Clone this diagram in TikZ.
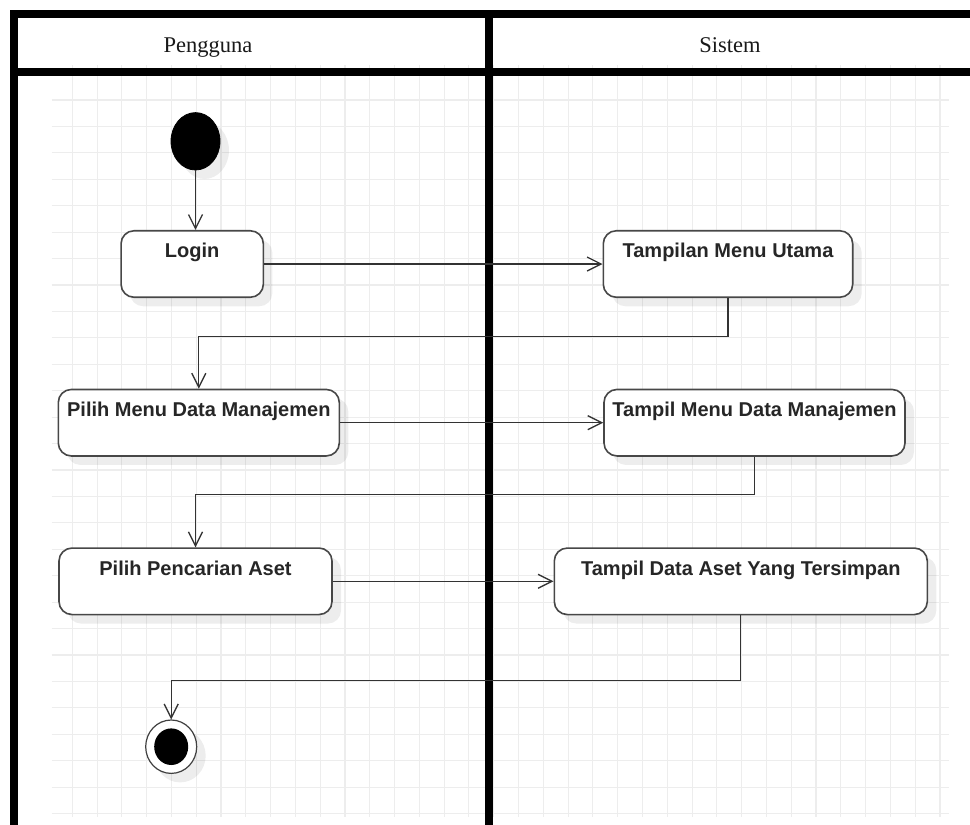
\documentclass[tikz,border=0pt]{standalone}
\usepackage{fontspec}
\setmainfont{Liberation Serif}
\setsansfont{Liberation Sans}
\usetikzlibrary{shapes.geometric,arrows.meta,shadows}

\tikzset{
  gridline/.style={draw=black!7, line width=1.1pt},
  laneline/.style={draw=black, line width=8pt, line join=miter},
  lanetitle/.style={font=\fontsize{22.5pt}{24pt}\selectfont, text=black!90, anchor=base, inner sep=0pt},
  softshadow/.style={drop shadow={shadow xshift=9pt, shadow yshift=-9pt, fill=black, opacity=0.07}},
  actbox/.style={draw=black!72, line width=1.6pt, fill=white, rounded corners=13pt,
    minimum height=66.5pt, inner sep=0pt, softshadow},
  acttext/.style={font=\sffamily\bfseries\fontsize{20pt}{22pt}\selectfont, text=black!85,
    anchor=base, inner sep=0pt},
  flow/.style={draw=black!80, line width=1.3pt, -{Straight Barb[length=14pt,width=14pt]}},
  startdot/.style={ellipse, fill=black, draw=black, line width=0.8pt, minimum width=49pt,
    minimum height=57.4pt, inner sep=0pt, softshadow},
  endring/.style={ellipse, fill=white, draw=black!75, line width=1.2pt, minimum width=51pt,
    minimum height=53.4pt, inner sep=0pt, softshadow},
  enddot/.style={ellipse, fill=black, minimum width=34pt, minimum height=36.6pt, inner sep=0pt}
}

\begin{document}
\begin{tikzpicture}[x=1pt, y=-1pt]
\useasboundingbox (0,0) rectangle (970,825);
\fill[white] (0,0) rectangle (970,825);

% background grid
\foreach \i in {0,...,35}
  \draw[gridline] ({72.3+24.79*\i},65) -- ({72.3+24.79*\i},817);
\foreach \j in {0,...,27}
  \draw[gridline] (51.7,{100+26.43*\j}) -- (949,{100+26.43*\j});

% swimlane frame
\draw[laneline] (13.5,825) -- (13.5,14) -- (975,14);
\draw[laneline] (10,71.8) -- (975,71.8);
\draw[laneline] (489.2,10) -- (489.2,825);

% lane titles
\node[lanetitle] (pengguna) at (208,52.5) {Pengguna};
\node[lanetitle] (sistem) at (730,52.5) {Sistem};

% start and end states
\node[startdot] (start) at (195.5,141.3) {};
\node[endring] (finish) at (171.2,746.7) {};
\node[enddot] (finishdot) at (171.2,746.7) {};

% activities
\node[actbox, minimum width=142.3pt] (login) at (192.2,264) {};
\node[actbox, minimum width=249.4pt] (tmu)   at (728,264) {};
\node[actbox, minimum width=281pt]   (pmdm)  at (198.8,422.7) {};
\node[actbox, minimum width=301pt]   (tmdm)  at (754.5,422.7) {};
\node[actbox, minimum width=273pt]   (ppa)   at (195.5,581.3) {};
\node[actbox, minimum width=373pt]   (tdat)  at (740.8,581.3) {};

\node[acttext] (tlogin) at ([yshift=-28pt]login.north) {Login};
\node[acttext] (ttmu)   at ([yshift=-28pt]tmu.north)   {Tampilan Menu Utama};
\node[acttext] (tpmdm)  at ([yshift=-28pt]pmdm.north)  {Pilih Menu Data Manajemen};
\node[acttext] (ttmdm)  at ([yshift=-28pt]tmdm.north)  {Tampil Menu Data Manajemen};
\node[acttext] (tppa)   at ([yshift=-28pt]ppa.north)   {Pilih Pencarian Aset};
\node[acttext] (ttdat)  at ([yshift=-28pt]tdat.north)  {Tampil Data Aset Yang Tersimpan};

% bend levels of the return connectors
\coordinate (bendA) at (0,336.7);
\coordinate (bendB) at (0,494.5);
\coordinate (bendC) at (0,680.7);

% control flow
\draw[flow] (start.south) -- (start.south |- login.north);
\draw[flow] (login.east) -- (tmu.west);
\draw[flow] (tmu.south) -- (tmu.south |- bendA) -- (pmdm.north |- bendA) -- (pmdm.north);
\draw[flow] (pmdm.east) -- (tmdm.west);
\draw[flow] (tmdm.south) -- (tmdm.south |- bendB) -- (ppa.north |- bendB) -- (ppa.north);
\draw[flow] (ppa.east) -- (tdat.west);
\draw[flow] (tdat.south) -- (tdat.south |- bendC) -- (finish.north |- bendC) -- (finish.north);
\end{tikzpicture}
\end{document}
